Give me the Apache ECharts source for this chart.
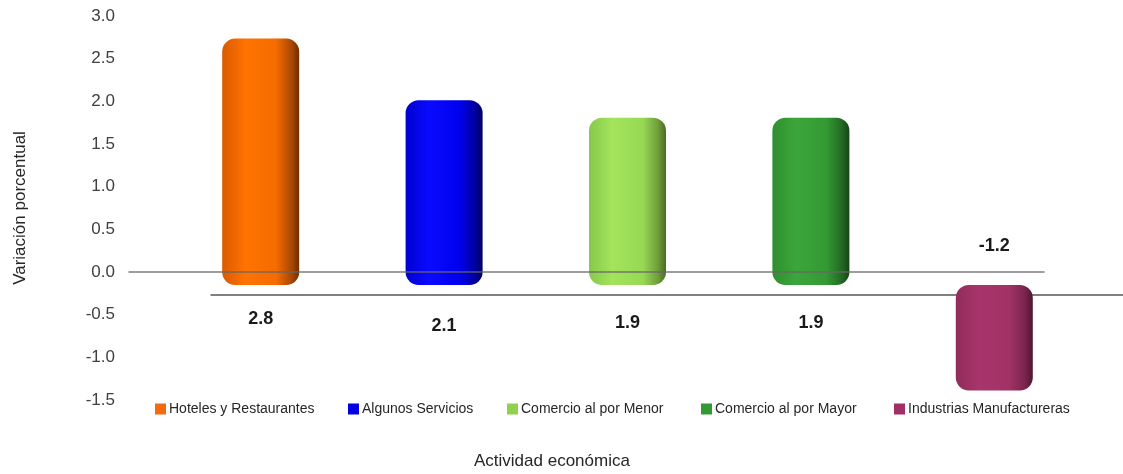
<!DOCTYPE html>
<html>
<head>
<meta charset="utf-8">
<script src="https://cdn.jsdelivr.net/npm/echarts@6/dist/echarts.min.js"></script>
<style>
html,body{margin:0;padding:0;background:#fff;}
#chart{width:1123px;height:474px;}
</style>
</head>
<body>
<div id="chart"></div>
<script>
const categories = ['Hoteles y Restaurantes', 'Algunos Servicios', 'Comercio al por Menor', 'Comercio al por Mayor', 'Industrias Manufactureras'];
const values = [2.8, 2.1, 1.9, 1.9, -1.2];
const yTicks = { min: -1.5, max: 3.0, interval: 0.5 };
const yAxisTitle = 'Variación porcentual';
const xAxisTitle = 'Actividad económica';

const palettes = [
  ['#D95A00', '#FF7300', '#F56C00', '#A94800', '#6E2E00'],
  ['#0000D0', '#0a0aff', '#0000EE', '#0000A0', '#000060'],
  ['#86C94A', '#A3E45C', '#98D954', '#6E9C3A', '#4A6A26'],
  ['#2F8F2F', '#3BA63B', '#349A34', '#226A22', '#154515'],
  ['#912C5B', '#A8356B', '#A03266', '#7A244D', '#4E1631']
];
const legendColors = ['#F26B0F', '#0000E0', '#8FD14F', '#339933', '#A12E65'];
const labelDist = [25, 32, 29, 29, 30];
const legendLeft = [155, 348, 507, 701, 894];
const FONT = 'Liberation Sans, Arial, sans-serif';

function grad(p) {
  return new echarts.graphic.LinearGradient(0, 0, 1, 0, [
    { offset: 0, color: p[0] },
    { offset: 0.3, color: p[1] },
    { offset: 0.7, color: p[2] },
    { offset: 0.9, color: p[3] },
    { offset: 1, color: p[4] }
  ]);
}

const chart = echarts.init(document.getElementById('chart'));

const series = categories.map((name, i) => ({
  name: name,
  type: 'bar',
  stack: 'all',
  xAxisIndex: 1,
  yAxisIndex: 1,
  barWidth: 77,
  z: 3,
  data: values.map((v, j) => (j === i ? v : '-')),
  itemStyle: {
    color: grad(palettes[i]),
    borderRadius: 13
  },
  label: {
    show: true,
    position: values[i] >= 0 ? 'bottom' : 'top',
    distance: labelDist[i],
    fontFamily: FONT,
    fontSize: 18,
    fontWeight: 'bold',
    color: '#1a1a1a',
    formatter: p => Number(p.value).toFixed(1)
  }
}));

// floor line (behind bars)
series.push({
  type: 'line', xAxisIndex: 2, yAxisIndex: 2, data: [], silent: true
});

const legends = categories.map((name, i) => ({
  data: [{ name: name, itemStyle: { color: legendColors[i] } }],
  left: legendLeft[i],
  top: 402,
  padding: 0,
  itemWidth: 11,
  itemHeight: 11,
  itemGap: 0,
  icon: 'rect',
  selectedMode: false,
  textStyle: {
    fontFamily: FONT,
    fontSize: 14,
    color: '#262626',
    padding: [0, 0, 0, -2]
  }
}));

chart.setOption({
  animation: false,
  backgroundColor: '#ffffff',
  title: {
    text: xAxisTitle,
    left: 474,
    top: 453,
    padding: 0,
    textStyle: {
      fontFamily: FONT,
      fontSize: 17,
      fontWeight: 'normal',
      color: '#262626'
    }
  },
  legend: legends,
  grid: [
    { left: 129, right: 79, top: 16, bottom: 74 },
    { left: 169, right: 37, top: 21, bottom: 57 },
    { left: 211, right: 0, top: 39, bottom: 51 }
  ],
  xAxis: [
    {
      gridIndex: 0, type: 'category', data: categories, z: 10,
      axisLine: { show: true, onZero: true, lineStyle: { color: '#666666', width: 1.5, opacity: 0.85 } },
      axisTick: { show: false }, axisLabel: { show: false }, splitLine: { show: false }
    },
    {
      gridIndex: 1, type: 'category', data: categories,
      axisLine: { show: false }, axisTick: { show: false }, axisLabel: { show: false }, splitLine: { show: false }
    },
    {
      gridIndex: 2, type: 'category', data: categories, z: 0,
      axisLine: { show: true, onZero: true, lineStyle: { color: '#555555', width: 1.5 } },
      axisTick: { show: false }, axisLabel: { show: false }, splitLine: { show: false }
    }
  ],
  yAxis: [
    {
      gridIndex: 0, type: 'value', min: yTicks.min, max: yTicks.max, interval: yTicks.interval,
      name: yAxisTitle, nameLocation: 'middle', nameGap: 100, nameRotate: 90,
      nameTextStyle: { fontFamily: FONT, fontSize: 17, color: '#262626' },
      axisLine: { show: false }, axisTick: { show: false }, splitLine: { show: false },
      axisLabel: {
        margin: 14,
        fontFamily: FONT, fontSize: 17, color: '#404040',
        formatter: v => v.toFixed(1)
      }
    },
    {
      gridIndex: 1, type: 'value', min: yTicks.min, max: yTicks.max, interval: yTicks.interval,
      axisLine: { show: false }, axisTick: { show: false }, splitLine: { show: false }, axisLabel: { show: false }
    },
    {
      gridIndex: 2, type: 'value', min: yTicks.min, max: yTicks.max, interval: yTicks.interval,
      axisLine: { show: false }, axisTick: { show: false }, splitLine: { show: false }, axisLabel: { show: false }
    }
  ],
  series: series
});
</script>
</body>
</html>
